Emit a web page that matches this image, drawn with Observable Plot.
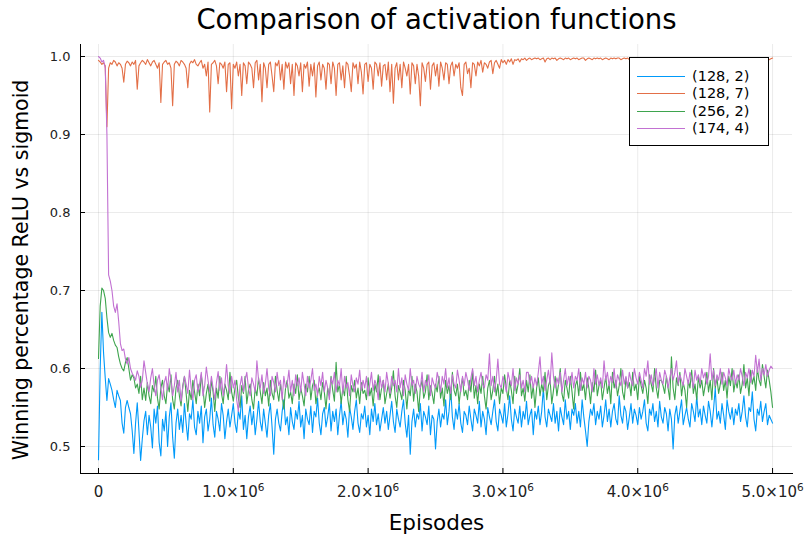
<!DOCTYPE html>
<html><head><meta charset="utf-8">
<script src="https://cdn.jsdelivr.net/npm/d3@7"></script>
<script src="https://cdn.jsdelivr.net/npm/@observablehq/plot@0.6"></script>
<style>
body{margin:0;background:#fff;font-family:"DejaVu Sans",sans-serif}
#wrap{position:relative;width:805px;height:536px;overflow:hidden}
.legend{position:absolute;left:629px;top:57px;width:140px;height:89px;border:1px solid #000;background:#fff;box-sizing:border-box;font-size:14.5px;color:#000}
.row{position:absolute;left:0;height:17px;line-height:17px;white-space:nowrap}
.row .sw{position:absolute;left:7px;top:8px;width:48px;height:0;border-top:1.3px solid}
.row .tx{position:absolute;left:62px;top:0}
</style></head>
<body><div id="wrap"></div>
<script>
const seriesNames = ["(128, 2)", "(128, 7)", "(256, 2)", "(174, 4)"];
const seriesColors = ["#009AFA", "#E36F47", "#3EA44E", "#C271D2"];
const episodeStep = 12500;
const xTicks = [0, 1e6, 2e6, 3e6, 4e6, 5e6];
const yTicks = [0.5, 0.6, 0.7, 0.8, 0.9, 1.0];

const s128_2 = [
0.483,0.600,0.672,0.620,0.588,0.559,0.587,0.580,0.572,0.560,0.550,0.572,0.565,0.559,0.530,0.517,0.550,0.559,0.550,0.542,
0.520,0.491,0.530,0.556,0.520,0.482,0.510,0.533,0.545,0.515,0.540,0.525,0.498,0.548,0.530,0.552,0.505,0.488,0.535,0.520,
0.545,0.500,0.538,0.556,0.512,0.485,0.530,0.548,0.522,0.540,0.518,0.555,0.530,0.508,0.542,0.535,0.560,0.525,0.515,0.545,
0.530,0.552,0.505,0.538,0.548,0.520,0.535,0.562,0.528,0.512,0.545,0.535,0.520,0.555,0.540,0.510,0.532,0.548,0.525,0.540,
0.555,0.530,0.518,0.546,0.535,0.565,0.522,0.540,0.510,0.538,0.552,0.528,0.545,0.515,0.535,0.558,0.532,0.520,0.548,0.530,
0.512,0.540,0.555,0.525,0.490,0.535,0.548,0.530,0.520,0.545,0.560,0.528,0.538,0.515,0.550,0.532,0.522,0.546,0.535,0.558,
0.525,0.540,0.510,0.548,0.535,0.528,0.552,0.518,0.545,0.538,0.562,0.530,0.515,0.542,0.550,0.525,0.538,0.555,0.520,0.545,
0.532,0.548,0.515,0.540,0.558,0.528,0.545,0.535,0.512,0.550,0.538,0.522,0.545,0.560,0.530,0.518,0.542,0.535,0.552,0.525,
0.540,0.515,0.548,0.532,0.555,0.528,0.542,0.520,0.535,0.550,0.530,0.545,0.522,0.540,0.558,0.532,0.518,0.548,0.535,0.525,
0.545,0.560,0.530,0.512,0.540,0.490,0.532,0.548,0.525,0.542,0.535,0.555,0.520,0.545,0.538,0.528,0.552,0.515,0.540,0.535,
0.497,0.532,0.548,0.525,0.542,0.535,0.560,0.528,0.545,0.575,0.538,0.522,0.548,0.535,0.555,0.530,0.518,0.545,0.540,0.528,
0.552,0.535,0.520,0.548,0.540,0.530,0.558,0.525,0.545,0.535,0.515,0.550,0.538,0.528,0.545,0.560,0.532,0.520,0.548,0.540,
0.530,0.555,0.525,0.542,0.565,0.535,0.520,0.548,0.538,0.530,0.552,0.525,0.545,0.535,0.558,0.528,0.540,0.548,0.515,0.545,
0.535,0.552,0.528,0.545,0.575,0.538,0.525,0.548,0.540,0.532,0.555,0.530,0.545,0.520,0.550,0.538,0.528,0.560,0.535,0.545,
0.522,0.548,0.540,0.555,0.530,0.545,0.525,0.560,0.538,0.520,0.500,0.532,0.548,0.540,0.555,0.528,0.545,0.535,0.552,0.525,
0.540,0.560,0.532,0.548,0.525,0.545,0.555,0.535,0.528,0.565,0.540,0.530,0.552,0.545,0.522,0.538,0.555,0.530,0.548,0.540,
0.528,0.550,0.535,0.545,0.560,0.530,0.520,0.548,0.540,0.555,0.532,0.545,0.525,0.558,0.538,0.530,0.550,0.542,0.520,0.548,
0.535,0.497,0.540,0.552,0.530,0.545,0.560,0.528,0.540,0.550,0.535,0.525,0.555,0.545,0.532,0.565,0.538,0.548,0.528,0.552,
0.540,0.530,0.558,0.545,0.525,0.548,0.575,0.535,0.545,0.530,0.555,0.540,0.522,0.560,0.545,0.535,0.550,0.528,0.548,0.540,
0.555,0.532,0.545,0.565,0.538,0.525,0.550,0.545,0.570,0.535,0.520,0.548,0.540,0.558,0.532,0.545,0.555,0.528,0.540,0.535,
0.530];

const s128_7 = [
0.995,0.993,0.990,0.992,0.988,0.910,0.985,0.992,0.990,0.995,0.993,0.988,0.992,0.990,0.985,0.967,0.990,0.994,0.992,0.988,
0.993,0.990,0.995,0.958,0.988,0.992,0.995,0.993,0.990,0.996,0.992,0.988,0.993,0.995,0.990,0.985,0.992,0.941,0.990,0.993,
0.995,0.990,0.992,0.985,0.937,0.990,0.994,0.992,0.988,0.995,0.993,0.990,0.985,0.960,0.990,0.994,0.992,0.996,0.990,0.988,
0.992,0.995,0.985,0.990,0.975,0.993,0.929,0.990,0.992,0.995,0.988,0.965,0.992,0.990,0.985,0.993,0.955,0.990,0.992,0.933,
0.990,0.985,0.993,0.975,0.990,0.950,0.992,0.988,0.965,0.993,0.990,0.985,0.960,0.992,0.995,0.970,0.990,0.942,0.992,0.985,
0.960,0.990,0.993,0.975,0.955,0.992,0.988,0.995,0.970,0.990,0.958,0.993,0.985,0.992,0.965,0.990,0.950,0.992,0.988,0.975,
0.992,0.955,0.990,0.985,0.993,0.962,0.990,0.975,0.992,0.948,0.988,0.993,0.970,0.990,0.985,0.958,0.992,0.990,0.965,0.993,
0.985,0.950,0.990,0.992,0.970,0.988,0.960,0.993,0.990,0.975,0.955,0.992,0.985,0.990,0.965,0.993,0.980,0.952,0.990,0.992,
0.968,0.990,0.985,0.958,0.993,0.990,0.975,0.992,0.962,0.988,0.990,0.970,0.993,0.955,0.990,0.940,0.985,0.992,0.970,0.990,
0.960,0.993,0.985,0.975,0.990,0.952,0.992,0.988,0.965,0.990,0.975,0.937,0.992,0.985,0.968,0.990,0.993,0.958,0.988,0.992,
0.975,0.990,0.962,0.993,0.985,0.970,0.992,0.990,0.965,0.988,0.993,0.975,0.990,0.985,0.992,0.960,0.950,0.990,0.993,0.978,
0.985,0.960,0.992,0.990,0.975,0.993,0.988,0.995,0.980,0.992,0.990,0.985,0.993,0.995,0.978,0.992,0.995,0.990,0.985,0.996,
0.992,0.995,0.990,0.996,0.993,0.997,0.990,0.996,0.995,0.997,0.993,0.997,0.996,0.998,0.995,0.997,0.998,0.996,0.997,0.998,
0.997,0.998,0.996,0.997,0.998,0.993,0.997,0.998,0.996,0.998,0.997,0.998,0.995,0.997,0.998,0.997,0.996,0.998,0.997,0.998,
0.996,0.997,0.998,0.997,0.998,0.996,0.997,0.998,0.998,0.995,0.997,0.998,0.997,0.996,0.998,0.997,0.998,0.997,0.998,0.996,
0.997,0.998,0.997,0.996,0.998,0.997,0.998,0.997,0.998,0.998,0.996,0.997,0.998,0.997,0.998,0.996,0.997,0.998,0.997,0.998,
0.997,0.998,0.996,0.998,0.997,0.998,0.992,0.997,0.998,0.997,0.996,0.998,0.997,0.998,0.997,0.996,0.998,0.997,0.998,0.997,
0.996,0.998,0.997,0.998,0.990,0.997,0.998,0.996,0.998,0.997,0.998,0.995,0.997,0.998,0.997,0.998,0.992,0.997,0.998,0.996,
0.998,0.997,0.998,0.996,0.997,0.998,0.997,0.995,0.998,0.997,0.998,0.996,0.997,0.998,0.997,0.998,0.996,0.998,0.997,0.998,
0.997,0.998,0.996,0.998,0.997,0.998,0.997,0.996,0.998,0.997,0.998,0.997,0.996,0.998,0.997,0.998,0.997,0.998,0.996,0.997,
0.998];

const s256_2 = [
0.613,0.680,0.703,0.700,0.690,0.665,0.646,0.640,0.645,0.636,0.630,0.627,0.615,0.606,0.600,0.597,0.608,0.614,0.600,0.585,
0.592,0.588,0.575,0.580,0.568,0.590,0.560,0.575,0.559,0.582,0.565,0.555,0.578,0.570,0.590,0.562,0.548,0.575,0.585,0.565,
0.555,0.580,0.570,0.592,0.560,0.548,0.575,0.585,0.565,0.552,0.578,0.590,0.568,0.545,0.572,0.560,0.585,0.570,0.555,0.580,
0.565,0.592,0.575,0.550,0.568,0.580,0.558,0.585,0.570,0.545,0.575,0.562,0.590,0.568,0.555,0.580,0.572,0.560,0.595,0.570,
0.558,0.575,0.585,0.562,0.550,0.578,0.568,0.590,0.555,0.572,0.580,0.560,0.548,0.575,0.565,0.588,0.570,0.555,0.582,0.565,
0.575,0.552,0.585,0.568,0.560,0.590,0.572,0.558,0.580,0.565,0.548,0.575,0.585,0.562,0.570,0.555,0.580,0.568,0.592,0.560,
0.575,0.565,0.552,0.580,0.570,0.590,0.560,0.578,0.585,0.555,0.568,0.575,0.560,0.582,0.570,0.548,0.575,0.565,0.590,0.572,
0.558,0.608,0.570,0.580,0.555,0.575,0.565,0.590,0.560,0.545,0.578,0.570,0.585,0.562,0.575,0.555,0.582,0.568,0.572,0.560,
0.588,0.565,0.575,0.552,0.580,0.570,0.592,0.560,0.575,0.585,0.555,0.568,0.580,0.562,0.575,0.597,0.565,0.550,0.578,0.570,
0.560,0.585,0.572,0.548,0.575,0.565,0.590,0.558,0.580,0.570,0.545,0.575,0.585,0.562,0.570,0.592,0.560,0.578,0.568,0.555,
0.580,0.570,0.590,0.562,0.575,0.552,0.585,0.568,0.578,0.560,0.595,0.572,0.565,0.580,0.555,0.575,0.588,0.565,0.572,0.560,
0.585,0.570,0.597,0.562,0.578,0.555,0.580,0.568,0.590,0.565,0.548,0.575,0.585,0.560,0.572,0.590,0.565,0.580,0.555,0.575,
0.568,0.592,0.575,0.560,0.585,0.572,0.555,0.590,0.568,0.580,0.600,0.565,0.575,0.558,0.585,0.570,0.592,0.562,0.578,0.550,
0.575,0.588,0.565,0.580,0.570,0.595,0.560,0.578,0.585,0.555,0.572,0.590,0.565,0.580,0.600,0.568,0.558,0.585,0.575,0.562,
0.590,0.570,0.548,0.578,0.585,0.565,0.595,0.572,0.580,0.560,0.588,0.575,0.555,0.582,0.570,0.598,0.565,0.578,0.585,0.560,
0.575,0.590,0.568,0.580,0.555,0.595,0.575,0.585,0.565,0.578,0.600,0.570,0.560,0.588,0.575,0.582,0.565,0.595,0.572,0.580,
0.560,0.590,0.578,0.568,0.585,0.575,0.555,0.592,0.580,0.570,0.600,0.575,0.562,0.585,0.585,0.578,0.568,0.590,0.575,0.560,
0.615,0.575,0.560,0.588,0.578,0.595,0.565,0.582,0.572,0.550,0.585,0.575,0.598,0.568,0.580,0.560,0.590,0.575,0.585,0.565,
0.578,0.595,0.570,0.585,0.560,0.600,0.575,0.588,0.568,0.580,0.595,0.572,0.585,0.562,0.590,0.578,0.600,0.570,0.585,0.575,
0.592,0.568,0.580,0.605,0.575,0.588,0.565,0.598,0.580,0.590,0.572,0.600,0.585,0.578,0.605,0.590,0.575,0.598,0.585,0.570,
0.550];

const s174_4 = [
1.000,0.998,0.993,0.995,0.985,0.900,0.720,0.712,0.700,0.680,0.672,0.683,0.660,0.632,0.623,0.625,0.612,0.606,0.614,0.600,
0.594,0.590,0.585,0.597,0.590,0.576,0.585,0.610,0.595,0.580,0.570,0.588,0.600,0.578,0.565,0.585,0.592,0.575,0.560,0.582,
0.590,0.572,0.600,0.585,0.565,0.578,0.595,0.570,0.585,0.558,0.575,0.590,0.580,0.568,0.598,0.575,0.560,0.585,0.592,0.570,
0.580,0.595,0.565,0.578,0.602,0.585,0.570,0.590,0.575,0.560,0.582,0.596,0.572,0.588,0.565,0.580,0.605,0.578,0.568,0.590,
0.575,0.585,0.560,0.545,0.578,0.590,0.570,0.585,0.595,0.575,0.565,0.588,0.580,0.570,0.610,0.585,0.575,0.592,0.568,0.580,
0.600,0.575,0.565,0.590,0.582,0.570,0.595,0.578,0.585,0.560,0.590,0.575,0.580,0.598,0.570,0.585,0.565,0.592,0.578,0.588,
0.570,0.595,0.580,0.565,0.590,0.575,0.585,0.600,0.572,0.580,0.565,0.590,0.578,0.595,0.570,0.585,0.575,0.560,0.588,0.580,
0.595,0.570,0.585,0.578,0.600,0.568,0.590,0.575,0.582,0.565,0.592,0.578,0.570,0.588,0.580,0.598,0.572,0.585,0.575,0.590,
0.565,0.580,0.595,0.572,0.585,0.578,0.560,0.590,0.575,0.585,0.570,0.595,0.580,0.568,0.590,0.578,0.585,0.570,0.600,0.575,
0.588,0.565,0.592,0.580,0.572,0.600,0.578,0.585,0.568,0.590,0.580,0.575,0.595,0.570,0.585,0.578,0.592,0.565,0.588,0.580,
0.575,0.595,0.585,0.570,0.590,0.580,0.600,0.575,0.588,0.568,0.592,0.580,0.575,0.598,0.585,0.570,0.590,0.578,0.595,0.585,
0.572,0.588,0.600,0.578,0.590,0.570,0.585,0.595,0.580,0.575,0.592,0.585,0.619,0.578,0.590,0.570,0.585,0.612,0.580,0.575,
0.590,0.582,0.570,0.595,0.585,0.578,0.600,0.572,0.588,0.580,0.592,0.575,0.585,0.570,0.595,0.595,0.580,0.590,0.575,0.588,
0.578,0.595,0.615,0.580,0.590,0.572,0.585,0.598,0.580,0.620,0.590,0.575,0.588,0.580,0.595,0.570,0.585,0.600,0.578,0.590,
0.580,0.595,0.575,0.590,0.585,0.600,0.572,0.588,0.580,0.595,0.575,0.590,0.585,0.570,0.600,0.580,0.592,0.578,0.588,0.575,
0.610,0.585,0.595,0.578,0.590,0.582,0.600,0.575,0.592,0.585,0.578,0.598,0.580,0.590,0.575,0.595,0.585,0.578,0.600,0.588,
0.580,0.595,0.585,0.575,0.600,0.590,0.610,0.580,0.592,0.578,0.588,0.600,0.575,0.595,0.585,0.580,0.598,0.590,0.575,0.588,
0.600,0.585,0.595,0.610,0.580,0.592,0.585,0.578,0.600,0.590,0.580,0.595,0.588,0.575,0.598,0.585,0.592,0.580,0.600,0.588,
0.595,0.580,0.590,0.619,0.585,0.598,0.578,0.592,0.585,0.600,0.580,0.595,0.588,0.578,0.600,0.590,0.585,0.598,0.580,0.592,
0.585,0.600,0.590,0.578,0.595,0.588,0.600,0.582,0.598,0.590,0.617,0.595,0.612,0.585,0.600,0.592,0.605,0.590,0.598,0.603,
0.600];

const allSeries = [s128_2, s128_7, s256_2, s174_4];
const rows = allSeries.flatMap((vals, k) =>
  vals.map((v, i) => ({episode: i * episodeStep, value: v, series: seriesNames[k]})));

const fmtX = d => d === 0 ? "0" : (d / 1e6).toFixed(1) + "\u00d710|6";

const chart = Plot.plot({
  width: 805,
  height: 536,
  marginLeft: 80,
  marginRight: 13,
  marginTop: 44,
  marginBottom: 63,
  style: {fontFamily: "DejaVu Sans, sans-serif", background: "#fff", overflow: "visible"},
  x: {domain: [-0.1335e6, 5.148e6]},
  y: {domain: [0.4654, 1.0154]},
  color: {domain: seriesNames, range: seriesColors},
  marks: [
    Plot.gridX(xTicks, {stroke: "#000", strokeOpacity: 0.08, strokeWidth: 1}),
    Plot.gridY(yTicks, {stroke: "#000", strokeOpacity: 0.08, strokeWidth: 1}),
    Plot.lineY(rows, {x: "episode", y: "value", z: "series", stroke: "series", strokeWidth: 1.1}),
    Plot.frame({anchor: "left", stroke: "#000", strokeWidth: 1}),
    Plot.frame({anchor: "bottom", stroke: "#000", strokeWidth: 1}),
    Plot.axisX(xTicks, {tickSize: -5, tickPadding: 18, tickFormat: fmtX, fontSize: 15, fill: "#222",
      label: "Episodes", labelAnchor: "center", labelArrow: "none", labelOffset: 56}),
    Plot.axisY(yTicks, {tickSize: -5, tickPadding: 15, tickFormat: d => d.toFixed(1), fontSize: 13, fill: "#222",
      label: "Winning percentage ReLU vs sigmoid", labelAnchor: "center", labelArrow: "none", labelOffset: 67}),
    Plot.text(["Comparison of activation functions"], {frameAnchor: "top", dy: -35, fontSize: 27.5, fill: "#000"})
  ]
});
chart.querySelectorAll("[aria-label='x-axis label'] text, [aria-label='y-axis label'] text").forEach(t => {
  t.style.fontSize = "20.5px"; t.setAttribute("fill", "#000");
});
chart.querySelectorAll("[aria-label='x-axis label'] text").forEach(t => { t.style.fontSize = "21.5px"; });
const yLab = chart.querySelector("[aria-label='y-axis label']");
if (yLab) {
  const tr = yLab.getAttribute("transform") || "";
  yLab.setAttribute("transform", (tr + " translate(0,11)").trim());
}
chart.querySelectorAll("[aria-label='x-axis tick label'] text").forEach(t => {
  const s = t.textContent;
  if (s.includes("|")) {
    const [base, sup] = s.split("|");
    t.textContent = "";
    const a = document.createElementNS("http://www.w3.org/2000/svg", "tspan");
    a.textContent = base;
    const b = document.createElementNS("http://www.w3.org/2000/svg", "tspan");
    b.textContent = sup;
    b.setAttribute("font-size", "10.5");
    b.setAttribute("dy", "-6");
    t.appendChild(a); t.appendChild(b);
  }
});
const wrap = document.getElementById("wrap");
wrap.appendChild(chart);

const legend = document.createElement("div");
legend.className = "legend";
const rowTops = [10, 27, 44.5, 62];
seriesNames.forEach((name, k) => {
  const r = document.createElement("div");
  r.className = "row";
  r.style.top = rowTops[k] + "px";
  r.innerHTML = `<span class="sw" style="border-color:${seriesColors[k]}"></span><span class="tx">${name}</span>`;
  legend.appendChild(r);
});
wrap.appendChild(legend);
</script>
</body></html>
